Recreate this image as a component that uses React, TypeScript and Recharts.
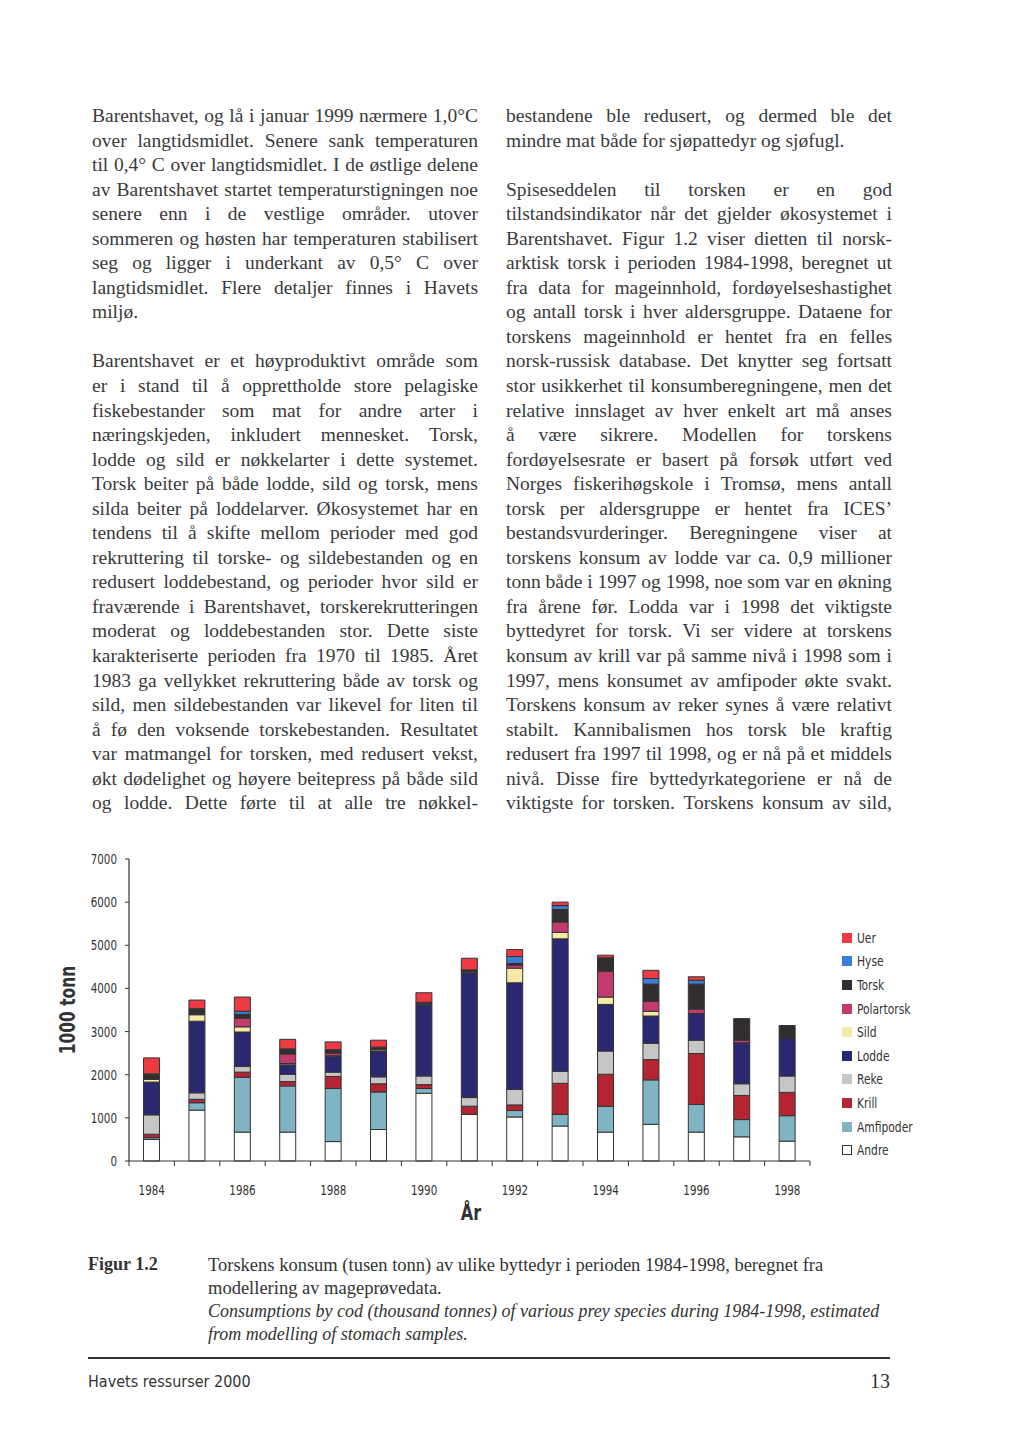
import React from 'react';
import { BarChart, Bar, XAxis, YAxis } from 'recharts';

// years and consumption (1000 tonn) per prey group
const years = ['1984', '1985', '1986', '1987', '1988', '1989', '1990', '1991', '1992', '1993', '1994', '1995', '1996', '1997', '1998'];
const andre = [500, 1180, 670, 670, 450, 730, 1570, 1080, 1020, 810, 670, 850, 670, 560, 460];
const amfipoder = [40, 170, 1270, 1070, 1230, 870, 110, 0, 150, 270, 600, 1030, 640, 400, 590];
const krill = [80, 80, 120, 100, 280, 190, 90, 190, 130, 720, 740, 470, 1180, 560, 540];
const reke = [450, 150, 130, 170, 100, 160, 200, 200, 360, 280, 540, 380, 310, 270, 380];
const lodde = [760, 1660, 800, 220, 360, 600, 1650, 2890, 2470, 3070, 1080, 630, 620, 950, 870];
const sild = [60, 150, 120, 30, 20, 30, 20, 20, 340, 150, 170, 110, 0, 0, 0];
const polartorsk = [20, 20, 200, 220, 60, 0, 0, 0, 70, 240, 600, 230, 100, 60, 0];
const torsk = [100, 100, 90, 100, 60, 60, 40, 50, 40, 290, 310, 400, 580, 500, 300];
const hyse = [10, 20, 70, 20, 20, 0, 0, 0, 160, 90, 0, 130, 90, 0, 0];
const uer = [370, 200, 330, 220, 180, 160, 220, 270, 160, 80, 60, 190, 80, 0, 0];
const yTicks = [0, 1000, 2000, 3000, 4000, 5000, 6000, 7000];

// stacking order, bottom first
const series = [
  { key: 'Andre', values: andre, color: '#ffffff' },
  { key: 'Amfipoder', values: amfipoder, color: '#80b3c3' },
  { key: 'Krill', values: krill, color: '#b52431' },
  { key: 'Reke', values: reke, color: '#c6c6c6' },
  { key: 'Lodde', values: lodde, color: '#2b2872' },
  { key: 'Sild', values: sild, color: '#f7e9a6' },
  { key: 'Polartorsk', values: polartorsk, color: '#c23a6e' },
  { key: 'Torsk', values: torsk, color: '#332e2e' },
  { key: 'Hyse', values: hyse, color: '#3a7fd5' },
  { key: 'Uer', values: uer, color: '#ee3a43' },
];

const chartData = years.map((year, i) => {
  const row: Record<string, string | number> = { year };
  series.forEach(s => { row[s.key] = s.values[i]; });
  return row;
});

// page text, one string per printed line
const leftParas = [
  {
    open: false,
    lines: [
      'Barentshavet, og lå i januar 1999 nærmere 1,0°C',
      'over langtidsmidlet. Senere sank temperaturen',
      'til 0,4° C over langtidsmidlet. I de østlige delene',
      'av Barentshavet startet temperaturstigningen noe',
      'senere enn i de vestlige områder. utover',
      'sommeren og høsten har temperaturen stabilisert',
      'seg og ligger i underkant av 0,5° C over',
      'langtidsmidlet. Flere detaljer finnes i Havets',
      'miljø.',
    ],
  },
  {
    open: true,
    lines: [
      'Barentshavet er et høyproduktivt område som',
      'er i stand til å opprettholde store pelagiske',
      'fiskebestander som mat for andre arter i',
      'næringskjeden, inkludert mennesket. Torsk,',
      'lodde og sild er nøkkelarter i dette systemet.',
      'Torsk beiter på både lodde, sild og torsk, mens',
      'silda beiter på loddelarver. Økosystemet har en',
      'tendens til å skifte mellom perioder med god',
      'rekruttering til torske- og sildebestanden og en',
      'redusert loddebestand, og perioder hvor sild er',
      'fraværende i Barentshavet, torskerekrutteringen',
      'moderat og loddebestanden stor. Dette siste',
      'karakteriserte perioden fra 1970 til 1985. Året',
      '1983 ga vellykket rekruttering både av torsk og',
      'sild, men sildebestanden var likevel for liten til',
      'å fø den voksende torskebestanden. Resultatet',
      'var matmangel for torsken, med redusert vekst,',
      'økt dødelighet og høyere beitepress på både sild',
      'og lodde. Dette førte til at alle tre nøkkel-',
    ],
  },
];

const rightParas = [
  {
    open: false,
    lines: [
      'bestandene ble redusert, og dermed ble det',
      'mindre mat både for sjøpattedyr og sjøfugl.',
    ],
  },
  {
    open: true,
    lines: [
      'Spiseseddelen til torsken er en god',
      'tilstandsindikator når det gjelder økosystemet i',
      'Barentshavet. Figur 1.2 viser dietten til norsk-',
      'arktisk torsk i perioden 1984-1998, beregnet ut',
      'fra data for mageinnhold, fordøyelseshastighet',
      'og antall torsk i hver aldersgruppe. Dataene for',
      'torskens mageinnhold er hentet fra en felles',
      'norsk-russisk database. Det knytter seg fortsatt',
      'stor usikkerhet til konsumberegningene, men det',
      'relative innslaget av hver enkelt art må anses',
      'å være sikrere. Modellen for torskens',
      'fordøyelsesrate er basert på forsøk utført ved',
      'Norges fiskerihøgskole i Tromsø, mens antall',
      'torsk per aldersgruppe er hentet fra ICES’',
      'bestandsvurderinger. Beregningene viser at',
      'torskens konsum av lodde var ca. 0,9 millioner',
      'tonn både i 1997 og 1998, noe som var en økning',
      'fra årene før. Lodda var i 1998 det viktigste',
      'byttedyret for torsk. Vi ser videre at torskens',
      'konsum av krill var på samme nivå i 1998 som i',
      '1997, mens konsumet av amfipoder økte svakt.',
      'Torskens konsum av reker synes å være relativt',
      'stabilt. Kannibalismen hos torsk ble kraftig',
      'redusert fra 1997 til 1998, og er nå på et middels',
      'nivå. Disse fire byttedyrkategoriene er nå de',
      'viktigste for torsken. Torskens konsum av sild,',
    ],
  },
];

const LINE_H = 24.56;
const serif = '"Liberation Serif", "Times New Roman", serif';
const narrow = '"Liberation Sans Narrow", "DejaVu Sans Condensed", "Liberation Sans", sans-serif';

const JustifiedLine = ({ text, justify }: { text: string; justify: boolean }) => {
  if (!justify) return <div style={{ height: LINE_H, whiteSpace: 'nowrap' }}>{text}</div>;
  return (
    <div style={{ height: LINE_H, display: 'flex', justifyContent: 'space-between', gap: 3, whiteSpace: 'nowrap' }}>
      {text.split(' ').map((w, i) => <span key={i}>{w}</span>)}
    </div>
  );
};

const Column = ({ paras, left }: { paras: { open: boolean; lines: string[] }[]; left: number }) => (
  <div style={{ position: 'absolute', left, top: 104, width: 386, fontFamily: serif, fontSize: 19.5, lineHeight: `${LINE_H}px`, color: '#3a3a3a' }}>
    {paras.map((p, pi) => (
      <div key={pi} style={{ marginBottom: pi < paras.length - 1 ? LINE_H : 0 }}>
        {p.lines.map((l, li) => (
          <JustifiedLine key={li} text={l} justify={p.open || li < p.lines.length - 1} />
        ))}
      </div>
    ))}
  </div>
);

// category ticks: marks at the band edges, labels on every other year
const YearTick = (props: any) => {
  const { x, y, payload, index } = props;
  const half = payload && payload.offset ? payload.offset : 22.7;
  return (
    <g>
      {index === 0 && <line x1={x - half} x2={x - half} y1={y} y2={y + 5} stroke="#333" />}
      <line x1={x + half} x2={x + half} y1={y} y2={y + 5} stroke="#333" />
      {index % 2 === 0 && (
        <text transform={`translate(${x},${y + 34}) scale(0.82,1)`} textAnchor="middle"
          fontFamily={narrow} fontSize={14} fill="#333">
          {payload.value}
        </text>
      )}
    </g>
  );
};

const ValueTick = (props: any) => {
  const { x, y, payload } = props;
  return (
    <text transform={`translate(${x},${y + 5}) scale(0.82,1)`} textAnchor="end"
      fontFamily={narrow} fontSize={14} fill="#333">
      {payload.value}
    </text>
  );
};

const LegendBox = () => (
  <div style={{ position: 'absolute', left: 842, top: 926, fontFamily: narrow, fontSize: 14, color: '#333' }}>
    {[...series].reverse().map(s => (
      <div key={s.key} style={{ display: 'flex', alignItems: 'center', height: 23.6 }}>
        <span style={{ width: 8, height: 8, marginRight: 5, background: s.color, border: s.key === 'Andre' ? '1.5px solid #333' : `1px solid ${s.color}` }} />
        <span style={{ display: 'inline-block', transform: 'scaleX(0.85)', transformOrigin: 'left center' }}>{s.key}</span>
      </div>
    ))}
  </div>
);

export default function App() {
  return (
    <div style={{ position: 'relative', width: 1024, height: 1448, background: '#ffffff', overflow: 'hidden' }}>
      <style>{'body{margin:0}'}</style>
      <Column paras={leftParas} left={92} />
      <Column paras={rightParas} left={506} />

      <div style={{ position: 'absolute', left: 0, top: 840 }}>
        <BarChart width={1024} height={420} data={chartData} barCategoryGap="32%"
          margin={{ top: 19, right: 214, left: 0, bottom: 69 }}>
          <XAxis dataKey="year" interval={0} tickSize={0} tickMargin={0} tickLine={false}
            axisLine={{ stroke: '#333', strokeWidth: 1.2 }} tick={<YearTick />} height={30} />
          <YAxis domain={[0, 7000]} ticks={yTicks} width={129} tickSize={4} tickMargin={8}
            axisLine={{ stroke: '#333', strokeWidth: 1.2 }} tickLine={{ stroke: '#333' }}
            tick={<ValueTick />} />
          {series.map(s => (
            <Bar key={s.key} dataKey={s.key} stackId="a" fill={s.color} stroke="#333" strokeWidth={1}
              isAnimationActive={false} />
          ))}
        </BarChart>
      </div>
      <LegendBox />

      <div style={{ position: 'absolute', left: 67, top: 1010, transform: 'translate(-50%, -50%) rotate(-90deg) scaleX(0.78)', fontFamily: narrow, fontWeight: 700, fontSize: 22, color: '#333', whiteSpace: 'nowrap' }}>
        1000 tonn
      </div>
      <div style={{ position: 'absolute', left: 471, top: 1213, transform: 'translate(-50%, -50%) scaleX(0.85)', fontFamily: narrow, fontWeight: 700, fontSize: 21, color: '#333' }}>
        År
      </div>

      <div style={{ position: 'absolute', left: 88, top: 1254, fontFamily: serif, fontWeight: 700, fontSize: 18, color: '#333' }}>
        Figur 1.2
      </div>
      <div style={{ position: 'absolute', left: 208, top: 1254, width: 700, fontFamily: serif, fontSize: 18.5, lineHeight: '23px', color: '#333' }}>
        <div style={{ whiteSpace: 'nowrap' }}>Torskens konsum (tusen tonn) av ulike byttedyr i perioden 1984-1998, beregnet fra</div>
        <div>modellering av mageprøvedata.</div>
        <div style={{ fontStyle: 'italic', whiteSpace: 'nowrap', fontSize: 18 }}>Consumptions by cod (thousand tonnes) of various prey species during 1984-1998, estimated</div>
        <div style={{ fontStyle: 'italic', fontSize: 18 }}>from modelling of stomach samples.</div>
      </div>

      <div style={{ position: 'absolute', left: 88, top: 1357, width: 802, height: 2, background: '#333' }} />
      <div style={{ position: 'absolute', left: 88, top: 1372, fontFamily: narrow, fontSize: 16, color: '#333' }}>
        Havets ressurser 2000
      </div>
      <div style={{ position: 'absolute', right: 1024 - 890, top: 1370, fontFamily: serif, fontSize: 20, color: '#333' }}>
        13
      </div>
    </div>
  );
}
